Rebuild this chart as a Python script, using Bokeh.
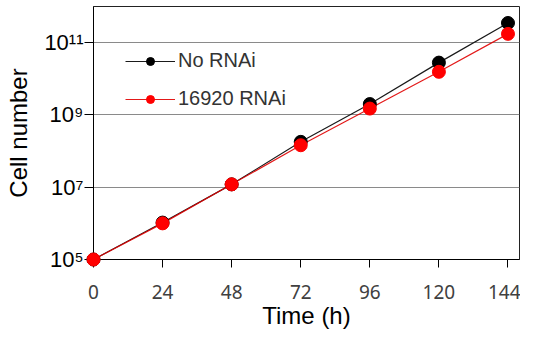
from bokeh.plotting import figure
from bokeh.models import FixedTicker, CustomJSTickFormatter, Range1d, Legend, LegendItem
from bokeh.embed import file_html
from bokeh.resources import INLINE

# Data
time_h = [0, 24, 48, 72, 96, 120, 144]
no_rnai = [1.0e5, 1.05e6, 1.2e7, 1.8e8, 2.0e9, 2.8e10, 3.5e11]
rnai_16920 = [1.0e5, 1.0e6, 1.2e7, 1.45e8, 1.5e9, 1.56e10, 1.75e11]
x_ticks = [0, 24, 48, 72, 96, 120, 144]
y_ticks = [1e5, 1e7, 1e9, 1e11]
series_names = ["No RNAi", "16920 RNAi"]

p = figure(width=520, height=331, y_axis_type="log",
           x_range=Range1d(0, 148), y_range=Range1d(1e5, 1e12),
           output_backend="svg", toolbar_location=None,
           min_border_left=93, min_border_right=1, min_border_top=6, min_border_bottom=72)

p.background_fill_color = "white"
p.border_fill_color = "white"
p.outline_line_color = "#222222"
p.outline_line_width = 1

# grid
p.xgrid.visible = False
p.ygrid.ticker = FixedTicker(ticks=y_ticks)
p.ygrid.grid_line_color = "#8a8a8a"
p.ygrid.grid_line_width = 1

# x axis
p.xaxis.ticker = FixedTicker(ticks=x_ticks)
p.xaxis.axis_label = "Time (h)"
p.xaxis.axis_label_text_font = "Liberation Sans"
p.xaxis.axis_label_text_font_size = "24px"
p.xaxis.axis_label_text_font_style = "normal"
p.xaxis.axis_label_text_color = "black"
p.xaxis.axis_label_standoff = 0
p.xaxis.major_label_text_font = "Noto Sans"
p.xaxis.major_label_text_font_size = "19px"
p.xaxis.major_label_text_color = "#404040"
p.xaxis.major_label_standoff = 17
p.xaxis.major_tick_out = 8
p.xaxis.major_tick_in = 0
p.xaxis.minor_tick_line_color = None
p.xaxis.axis_line_color = "black"
p.xaxis.major_tick_line_color = "black"

# y axis
p.yaxis.ticker = FixedTicker(ticks=y_ticks)
p.yaxis.formatter = CustomJSTickFormatter(code="""
const sup = ['\u2070','\u00b9','\u00b2','\u00b3','\u2074','\u2075','\u2076','\u2077','\u2078','\u2079'];
const e = Math.round(Math.log10(tick));
return '10' + String(e).split('').map(d => sup[+d]).join('');
""")
p.yaxis.axis_label = "Cell number"
p.yaxis.axis_label_text_font = "Liberation Sans"
p.yaxis.axis_label_text_font_size = "24px"
p.yaxis.axis_label_text_font_style = "normal"
p.yaxis.axis_label_text_color = "black"
p.yaxis.axis_label_standoff = 9
p.yaxis.major_label_text_font = "Liberation Sans"
p.yaxis.major_label_text_font_size = "22px"
p.yaxis.major_label_text_color = "black"
p.yaxis.major_label_standoff = 1
p.yaxis.major_tick_out = 9
p.yaxis.major_tick_in = 0
p.yaxis.minor_tick_line_color = None
p.yaxis.axis_line_color = "black"
p.yaxis.major_tick_line_color = "black"

# series
l1 = p.line(time_h, no_rnai, line_color="#1a1a1a", line_width=1.2)
s1 = p.scatter(time_h, no_rnai, size=13, fill_color="black", line_color="black", level="overlay")
l2 = p.line(time_h, rnai_16920, line_color="#e00000", line_width=1.2, line_alpha=0.9)
s2 = p.scatter(time_h, rnai_16920, size=13, fill_color="#ff0000", line_color="#ff0000", level="overlay")

legend = Legend(items=[LegendItem(label=series_names[0], renderers=[l1, s1]),
                       LegendItem(label=series_names[1], renderers=[l2, s2])],
                location=(32, 149))
legend.border_line_color = None
legend.background_fill_alpha = 0
legend.padding = 0
legend.margin = 0
legend.spacing = 15
legend.glyph_width = 50
legend.glyph_height = 20
legend.label_height = 20
legend.label_standoff = 3
legend.label_text_font = "Liberation Sans"
legend.label_text_font_size = "20px"
legend.label_text_color = "#333333"
p.add_layout(legend)

open("out.html", "w").write(file_html(p, INLINE))
